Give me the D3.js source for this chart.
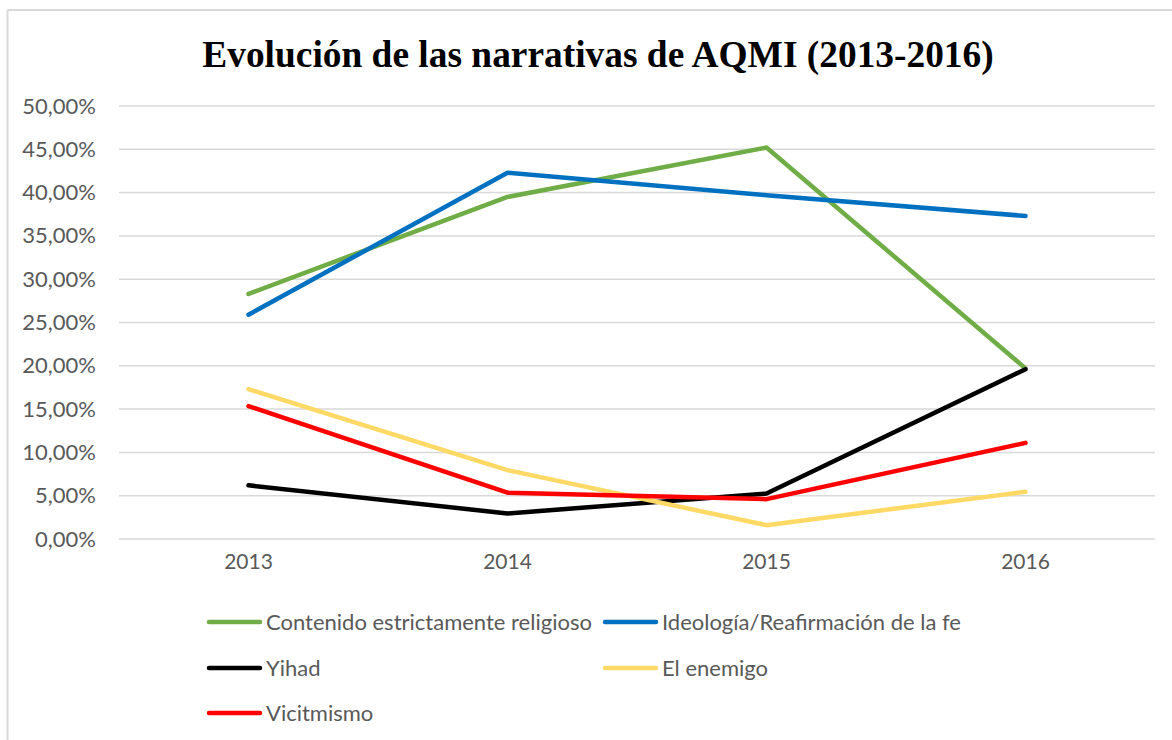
<!DOCTYPE html>
<html><head><meta charset="utf-8">
<script src="https://cdn.jsdelivr.net/npm/d3@7"></script>
<style>body{margin:0;background:#fff;} svg{display:block;}</style>
</head><body>
<svg id="c" width="1172" height="740"></svg>
<script>
const title = "Evolución de las narrativas de AQMI (2013-2016)";
const years = ["2013", "2014", "2015", "2016"];
const seriesNames = ["Contenido estrictamente religioso", "Ideología/Reafirmación de la fe", "Yihad", "El enemigo", "Vicitmismo"];
const seriesColors = ["#70AD47", "#0070C0", "#000000", "#FFD966", "#FF0000"];
const religioso = [28.3, 39.5, 45.2, 19.7];
const ideologia = [25.9, 42.3, 39.7, 37.3];
const yihad = [6.2, 2.95, 5.25, 19.6];
const enemigo = [17.3, 7.95, 1.6, 5.45];
const victimismo = [15.35, 5.35, 4.6, 11.1];
const seriesValues = [religioso, ideologia, yihad, enemigo, victimismo];
const yTicks = [0, 5, 10, 15, 20, 25, 30, 35, 40, 45, 50];

const svg = d3.select("#c");
const textColor = "#595959";
const font = "Lato, 'Open Sans', sans-serif";

// chart border (top and left visible)
svg.append("line").attr("x1", 7.5).attr("x2", 1172).attr("y1", 10).attr("y2", 10)
  .attr("stroke", "#d9d9d9").attr("stroke-width", 2);
svg.append("line").attr("x1", 7.5).attr("x2", 7.5).attr("y1", 10).attr("y2", 740)
  .attr("stroke", "#d9d9d9").attr("stroke-width", 2);

// title
svg.append("text").attr("x", 598).attr("y", 67).attr("text-anchor", "middle")
  .attr("font-family", "'Liberation Serif', 'Times New Roman', serif")
  .attr("font-weight", "bold").attr("font-size", 37.4).attr("fill", "#000")
  .text(title);

const x = d3.scaleBand().domain(years).range([119, 1155]);
const y = d3.scaleLinear().domain([0, 50]).range([539, 106]);

// gridlines
const grid = svg.append("g");
grid.selectAll("line").data(yTicks).join("line")
  .attr("x1", 119).attr("x2", 1155)
  .attr("y1", d => y(d)).attr("y2", d => y(d))
  .attr("stroke", "#d9d9d9").attr("stroke-width", 1.5);

// y axis
const yAxis = d3.axisLeft(y).tickValues(yTicks).tickSize(0).tickPadding(0)
  .tickFormat(d => d.toFixed(2).replace(".", ",") + "%");
const ya = svg.append("g").attr("transform", "translate(96,0)").call(yAxis);
ya.select(".domain").remove();
ya.selectAll("text").attr("font-family", font).attr("font-size", 22).attr("fill", textColor);

// x axis
const xAxis = d3.axisBottom(x).tickSize(0).tickPadding(0);
const xa = svg.append("g").attr("transform", "translate(0,554)").call(xAxis);
xa.select(".domain").remove();
xa.selectAll("text").attr("font-family", font).attr("font-size", 21).attr("fill", textColor);

// lines
const line = d3.line().x((d, i) => x(years[i]) + x.bandwidth() / 2).y(d => y(d));
svg.append("g").selectAll("path").data(seriesValues).join("path")
  .attr("d", d => line(d))
  .attr("fill", "none")
  .attr("stroke", (d, i) => seriesColors[i])
  .attr("stroke-width", 4.5)
  .attr("stroke-linejoin", "round")
  .attr("stroke-linecap", "round");

// legend
const legendPos = [[207, 622], [603, 622], [207, 668], [603, 668], [207, 713]];
const lg = svg.append("g");
seriesNames.forEach((name, i) => {
  const [lx, ly] = legendPos[i];
  lg.append("line").attr("x1", lx + 2).attr("x2", lx + 53).attr("y1", ly).attr("y2", ly)
    .attr("stroke", seriesColors[i]).attr("stroke-width", 4.5).attr("stroke-linecap", "round");
  lg.append("text").attr("x", lx + 59).attr("y", ly).attr("dy", "0.35em")
    .attr("font-family", font).attr("font-size", 22).attr("fill", textColor).text(name);
});
</script>
</body></html>
